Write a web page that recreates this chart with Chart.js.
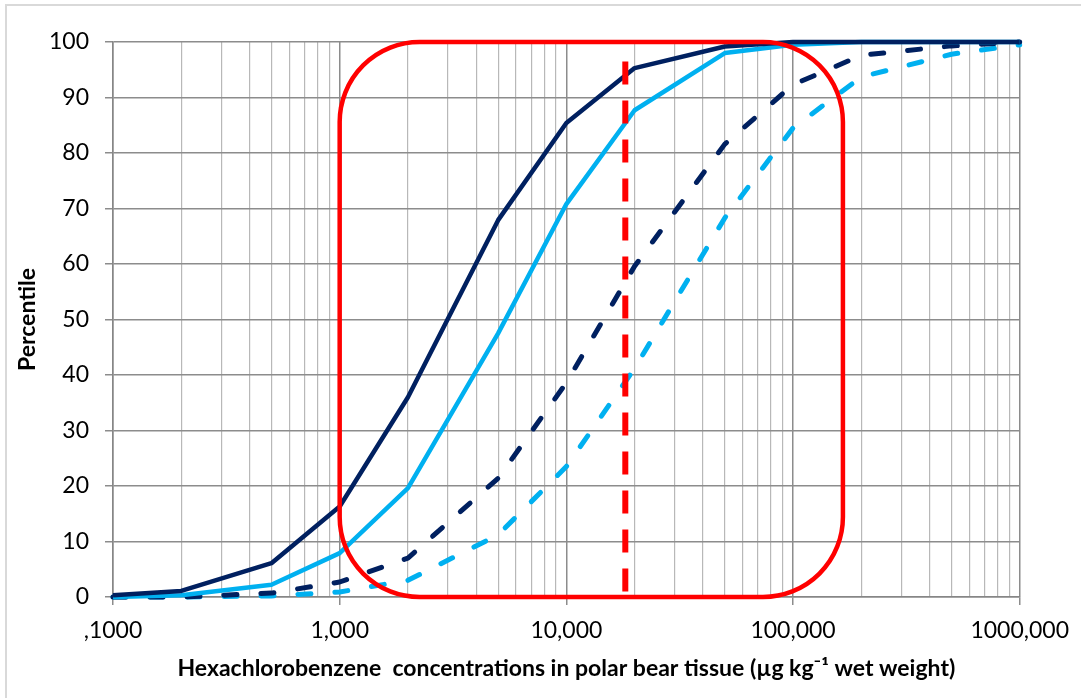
<!DOCTYPE html>
<html>
<head>
<meta charset="utf-8">
<script src="https://cdn.jsdelivr.net/npm/chart.js@4.4.0/dist/chart.umd.min.js"></script>
<style>
    html, body { margin: 0; padding: 0; background: #fff; }
    #wrap { position: relative; width: 1081px; height: 698px; overflow: hidden; }
    #frame { position: absolute; left: 5px; top: 4px; width: 1100px; height: 720px; border: 2px solid #d9d9d9; }
    canvas { position: absolute; left: 0; top: 0; }
</style>
</head>
<body>
<div id="wrap">
    <div id="frame"></div>
    <canvas id="chart" width="1081" height="698"></canvas>
</div>
<script>
// ========== DATA ==========
const concentrations = [0.1, 0.2, 0.5, 1, 2, 5, 10, 20, 50, 100, 200, 500, 1000];
const darkSolid  = [0.3, 1.1, 6.1, 16.3, 36, 67.9, 85.4, 95.3, 99.2, 100, 100, 100, 100];
const lightSolid = [0, 0.3, 2.2, 7.9, 19.6, 47.5, 70.8, 87.7, 98, 99.5, 100, 100, 100];
const darkDashed = [0, 0, 0.7, 2.7, 7, 21.4, 38.6, 59.6, 81.6, 92.3, 97.6, 99.3, 100];
const lightDashed = [0, 0, 0.2, 0.9, 3, 11.2, 23.5, 41.2, 68.3, 84.5, 93.7, 97.8, 99.5];

const xTickValues = [0.1, 1, 10, 100, 1000];
const xTickLabels = [',1000', '1,000', '10,000', '100,000', '1000,000'];
const minorSteps = [1, 2, 3, 4, 5, 6, 7, 8, 9];

const markerX = 18.2;        // red dashed reference line
const markerY = [96.5, 0];
const boxX = [1, 166];       // red rounded box
const boxY = [0, 100];

const NAVY = '#002060';
const CYAN = '#00b0f0';
const RED = '#ff0000';

// ========== HELPERS ==========
const pts = ys => concentrations.map((x, i) => ({ x, y: ys[i] }));
const isDecade = v => Math.abs(Math.log10(v) - Math.round(Math.log10(v))) < 1e-6;
const labelFor = v => {
    const i = xTickValues.findIndex(t => Math.abs(t - v) / t < 1e-6);
    return i >= 0 ? xTickLabels[i] : '';
};

// ========== PLUGINS ==========
const boxPlugin = {
    id: 'redBox',
    afterDatasetsDraw(chart) {
        const { ctx, scales: { x, y } } = chart;
        const x1 = x.getPixelForValue(boxX[0]), x2 = x.getPixelForValue(boxX[1]);
        const y1 = y.getPixelForValue(boxY[1]), y2 = y.getPixelForValue(boxY[0]);
        ctx.save();
        ctx.strokeStyle = RED;
        ctx.lineWidth = 4.5;
        ctx.beginPath();
        ctx.roundRect(x1, y1, x2 - x1, y2 - y1, 80);
        ctx.stroke();
        ctx.restore();
    }
};

// ========== CHART ==========
const family = 'Lato, "Open Sans", sans-serif';
const tickFont = { family, size: 23 };
const titleFont = { family, size: 23, weight: 'bold' };
const dashed = { borderWidth: 5, borderDash: [13, 24], borderCapStyle: 'round' };

new Chart(document.getElementById('chart'), {
    type: 'line',
    data: {
        datasets: [
            { data: pts(darkSolid), borderColor: NAVY, borderWidth: 4.5 },
            { data: pts(lightSolid), borderColor: CYAN, borderWidth: 4.5 },
            Object.assign({ data: pts(darkDashed), borderColor: NAVY }, dashed),
            Object.assign({ data: pts(lightDashed), borderColor: CYAN }, dashed),
            { data: markerY.map(y => ({ x: markerX, y })), borderColor: RED, borderWidth: 6, borderDash: [23, 16], order: -1 }
        ].map(d => Object.assign({ pointRadius: 0, tension: 0, fill: false, clip: false, borderJoinStyle: 'round' }, d))
    },
    options: {
        responsive: false,
        animation: false,
        layout: { padding: { top: 42, right: 60, left: 0, bottom: 0 } },
        plugins: { legend: { display: false }, tooltip: { enabled: false } },
        scales: {
            x: {
                type: 'logarithmic',
                min: 0.1,
                max: 1000,
                afterBuildTicks: s => {
                    const vals = [];
                    xTickValues.slice(0, -1).forEach(d => minorSteps.forEach(m => vals.push(d * m)));
                    vals.push(xTickValues[xTickValues.length - 1]);
                    s.ticks = vals.map(v => ({ value: v }));
                },
                afterFit: s => { s.height = 101; },
                ticks: { autoSkip: false, maxRotation: 0, color: '#000', font: tickFont, padding: 12, callback: v => labelFor(v) },
                grid: {
                    color: c => (c.tick && isDecade(c.tick.value)) ? '#8c8c8c' : '#b8b8b8',
                    lineWidth: c => (c.tick && isDecade(c.tick.value)) ? 1.5 : 1.2,
                    tickColor: c => (c.tick && isDecade(c.tick.value)) ? '#8c8c8c' : 'rgba(0,0,0,0)',
                    tickLength: 8
                },
                border: { color: '#868686', width: 1.5 },
                title: {
                    display: true,
                    text: 'Hexachlorobenzene  concentrations in polar bear tissue (µg kg⁻¹ wet weight)',
                    color: '#000',
                    font: titleFont,
                    padding: { top: 0, bottom: 16 }
                }
            },
            y: {
                min: 0,
                max: 100,
                afterFit: s => { s.width = 113; },
                ticks: { stepSize: 10, color: '#000', font: tickFont, padding: 16 },
                grid: { color: '#8c8c8c', lineWidth: 1.5, tickColor: '#8c8c8c', tickLength: 8 },
                border: { color: '#868686', width: 1.5 },
                title: {
                    display: true,
                    text: 'Percentile',
                    color: '#000',
                    font: titleFont,
                    padding: { top: 14, bottom: 0 }
                }
            }
        }
    },
    plugins: [boxPlugin]
});
</script>
</body>
</html>
